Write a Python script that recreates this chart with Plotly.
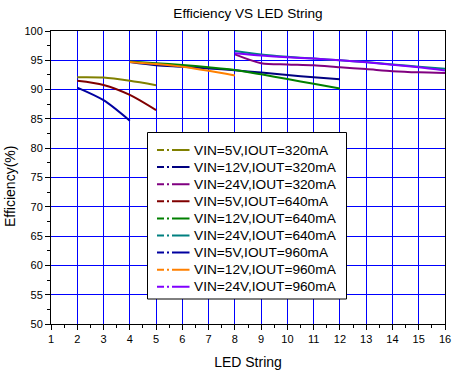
import plotly.graph_objects as go

# ---- data ----
x_5v = [2, 3, 4, 5]
x_5v_960 = [2, 3, 4]
x_12v = [4, 5, 6, 7, 8, 9, 10, 11, 12]
x_12v_960 = [4, 5, 6, 7, 8]
x_24v = [8, 9, 10, 11, 12, 13, 14, 15, 16]

eff_5v_320 = [92.1, 92.05, 91.5, 90.75]
eff_12v_320 = [94.7, 94.15, 93.9, 93.6, 93.3, 92.9, 92.5, 92.1, 91.75]
eff_24v_320 = [96.0, 94.5, 94.3, 94.15, 93.8, 93.5, 93.15, 92.95, 92.85]
eff_5v_640 = [91.5, 90.8, 89.1, 86.5]
eff_12v_640 = [94.8, 94.5, 94.2, 93.8, 93.35, 92.6, 91.8, 91.0, 90.2]
eff_24v_640 = [96.6, 96.0, 95.6, 95.3, 95.0, 94.7, 94.3, 93.9, 93.55]
eff_5v_960 = [90.35, 88.2, 84.7]
eff_12v_960 = [94.7, 94.35, 93.9, 93.2, 92.4]
eff_24v_960 = [96.2, 95.8, 95.5, 95.3, 95.0, 94.65, 94.25, 93.8, 93.25]

names = ["VIN=5V,IOUT=320mA", "VIN=12V,IOUT=320mA", "VIN=24V,IOUT=320mA",
         "VIN=5V,IOUT=640mA", "VIN=12V,IOUT=640mA", "VIN=24V,IOUT=640mA",
         "VIN=5V,IOUT=960mA", "VIN=12V,IOUT=960mA", "VIN=24V,IOUT=960mA"]
xs = [x_5v, x_12v, x_24v, x_5v, x_12v, x_24v, x_5v_960, x_12v_960, x_24v]
ys = [eff_5v_320, eff_12v_320, eff_24v_320, eff_5v_640, eff_12v_640,
      eff_24v_640, eff_5v_960, eff_12v_960, eff_24v_960]
colors = ["#808000", "#000080", "#800080", "#800000", "#008000",
          "#008080", "#0000A0", "#FF8000", "#8000FF"]

x_ticks = list(range(1, 17))
y_ticks = list(range(50, 101, 5))

FONT = "Arial, 'Liberation Sans', sans-serif"
W, H = 464, 371
ML, MR, MT, MB = 51, 19, 31, 47
PW, PH = W - ML - MR, H - MT - MB


def px(xp):
    return (xp - ML) / PW


def py(yp):
    return (H - MB - yp) / PH


fig = go.Figure()
for n, x, y, c in zip(names, xs, ys, colors):
    fig.add_trace(go.Scatter(x=x, y=y, mode="lines", name=n, showlegend=False,
                             line=dict(color=c, width=2, shape="spline", smoothing=0.8)))

# legend (drawn manually to match compact row spacing)
fig.add_shape(type="rect", xref="paper", yref="paper",
              x0=px(147.5), x1=px(346.5), y0=py(299), y1=py(132.5),
              line=dict(color="black", width=1), fillcolor="white", layer="above")
for i, (n, c) in enumerate(zip(names, colors)):
    yr = 150 + 17.1 * i
    fig.add_shape(type="line", xref="paper", yref="paper",
                  x0=px(157), x1=px(189.5), y0=py(yr), y1=py(yr),
                  line=dict(color=c, width=2, dash="7px,3px,2px,3px,18px,100px"),
                  layer="above")
    fig.add_annotation(text=n, xref="paper", yref="paper", x=px(192), y=py(yr),
                       xanchor="left", yanchor="middle", showarrow=False,
                       font=dict(size=13.7, family=FONT, color="black"))

fig.update_layout(
    width=W, height=H,
    margin=dict(l=ML, r=MR, t=MT, b=MB),
    paper_bgcolor="white", plot_bgcolor="white",
    font=dict(family=FONT, color="black", size=11),
    title=dict(text="Efficiency VS LED String", x=0.5, xref="paper",
               y=1 - 13 / H, yref="container", yanchor="middle",
               font=dict(size=13.6, family=FONT, color="black")),
    showlegend=False,
)
fig.update_xaxes(range=[1, 16], tickvals=x_ticks, ticktext=[str(v) for v in x_ticks],
                 showgrid=True, gridcolor="#0000FF", gridwidth=1,
                 showline=True, linecolor="black", linewidth=1, mirror=True,
                 ticks="outside", ticklen=5, tickcolor="black", zeroline=False,
                 tickfont=dict(size=11, family=FONT), automargin=False,
                 minor=dict(ticks="outside", ticklen=3, dtick=0.5, tick0=1, showgrid=False, tickcolor="black"),
                 title=dict(text="LED String", font=dict(size=14, family=FONT), standoff=12))
fig.update_yaxes(range=[50, 100], tickvals=y_ticks, ticktext=[str(v) for v in y_ticks],
                 showgrid=True, gridcolor="#0000FF", gridwidth=1,
                 showline=True, linecolor="black", linewidth=1, mirror=True,
                 ticks="outside", ticklen=5, tickcolor="black", zeroline=False,
                 tickfont=dict(size=11, family=FONT), automargin=False,
                 minor=dict(ticks="outside", ticklen=3, dtick=2.5, tick0=50, showgrid=False, tickcolor="black"),
                 title=dict(text=""))
fig.add_annotation(text="Efficiency(%)", xref="paper", yref="paper",
                   x=px(10), y=py(187),
                   xanchor="center", yanchor="middle", textangle=-90,
                   showarrow=False, font=dict(size=14, family=FONT, color="black"))

fig.write_html("out.html", config={"displayModeBar": False},
               post_script="document.body.style.margin='0';document.body.style.overflow='hidden';")
